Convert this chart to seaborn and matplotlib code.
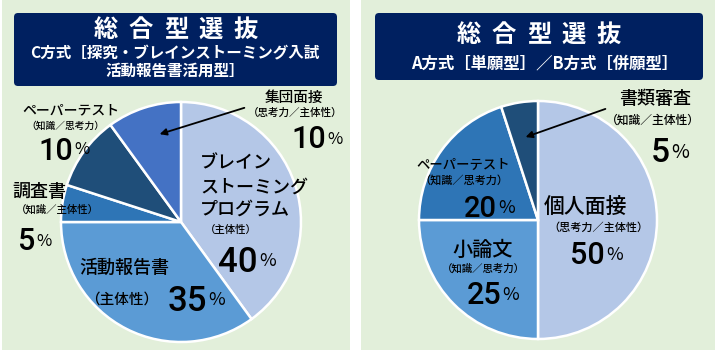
import matplotlib
matplotlib.use("Agg")
import matplotlib.pyplot as plt
from matplotlib.patches import Rectangle, FancyBboxPatch
import seaborn as sns

# ---- data ----
left_categories = ["ブレインストーミングプログラム", "活動報告書", "調査書", "ペーパーテスト", "集団面接"]
left_values = [40, 35, 5, 10, 10]
right_categories = ["個人面接", "小論文", "ペーパーテスト", "書類審査"]
right_values = [50, 25, 20, 5]

left_colors = ["#b4c7e7", "#5b9bd5", "#2e75b6", "#1f4e79", "#4472c4"]
right_colors = ["#b4c7e7", "#5b9bd5", "#2e75b6", "#1f4e79"]

left_title = "総合型選抜"
left_sub1 = "C方式［探究・ブレインストーミング入試"
left_sub2 = "活動報告書活用型］"
right_title = "総合型選抜"
right_sub = "A方式［単願型］／B方式［併願型］"

sns.set_theme(style="white")
plt.rcParams['font.family'] = ['Noto Sans CJK JP', 'DejaVu Sans']

W, H = 717, 350
fig = plt.figure(figsize=(W / 100, H / 100), dpi=100)
fig.patch.set_facecolor("white")
ax = fig.add_axes([0, 0, 1, 1])

def Y(p):
    return H - p

GREEN = "#e2efda"
NAVY = "#002060"

# panels
ax.add_patch(Rectangle((2, Y(350)), 348, 350, facecolor=GREEN, edgecolor="none", zorder=0))
ax.add_patch(Rectangle((361, Y(350)), 354, 350, facecolor=GREEN, edgecolor="none", zorder=0))
# title boxes
ax.add_patch(FancyBboxPatch((14, Y(86)), 323, 73, boxstyle="round,pad=0,rounding_size=4",
                            facecolor=NAVY, edgecolor="none", zorder=1))
ax.add_patch(FancyBboxPatch((375, Y(80)), 328, 67, boxstyle="round,pad=0,rounding_size=4",
                            facecolor=NAVY, edgecolor="none", zorder=1))

def spaced(text, cx, cy, step, **kw):
    n = len(text)
    x0 = cx - step * (n - 1) / 2
    for i, ch in enumerate(text):
        ax.text(x0 + i * step, Y(cy), ch, ha="center", va="center", **kw)

spaced(left_title, 176, 30, 35, color="white", fontsize=17.5, fontweight="bold", zorder=2)
ax.text(175, Y(53), left_sub1, ha="center", va="center", color="white", fontsize=11.2, fontweight="bold", zorder=2)
ax.text(175, Y(71), left_sub2, ha="center", va="center", color="white", fontsize=11.2, fontweight="bold", zorder=2)
spaced(right_title, 539, 35, 35, color="white", fontsize=17.5, fontweight="bold", zorder=2)
ax.text(545, Y(63), right_sub, ha="center", va="center", color="white", fontsize=11.8, fontweight="bold", zorder=2)

# pies
wp = dict(edgecolor="white", linewidth=1.8)
ax.pie(left_values, colors=sns.color_palette(left_colors), startangle=90, counterclock=False,
       center=(181, Y(222)), radius=120, wedgeprops=wp, frame=True)
ax.pie(right_values, colors=sns.color_palette(right_colors), startangle=90, counterclock=False,
       center=(538, Y(220)), radius=119, wedgeprops=wp, frame=True)

ax.set_xlim(0, W)
ax.set_ylim(0, H)
ax.set_aspect("auto")
ax.set_axis_off()

def T(x, y, s, size, ha="center", **kw):
    ax.text(x, Y(y), s, fontsize=size, ha=ha, va="center", color="black", zorder=5,
            fontweight="medium", **kw)

def pct(x, y, num, size, psize):
    # x is the boundary between number and % sign; y is the digit centre
    ax.text(x, Y(y), num, fontsize=size, ha="right", va="center_baseline", color="black",
            zorder=5, family=["Roboto", "DejaVu Sans"], fontweight="medium")
    ax.text(x + 1, Y(y), "%", fontsize=psize, ha="left", va="center_baseline", color="black", zorder=5)

# ---- left labels ----
T(294, 98, "集団面接", 10.5)
T(295, 113, "（思考力／主体性）", 7.6)
pct(326, 137, "10", 22, 12)

T(71, 110, "ペーパーテスト", 10)
T(65, 126, "（知識／思考力）", 7)
pct(73, 148, "10", 22, 12)

T(12, 192, "調査書", 13, ha="left")
T(57, 210, "（知識／主体性）", 7.5)
pct(35, 239, "5", 22, 12)

T(200, 163, "ブレイン", 13, ha="left")
T(200, 188, "ストーミング", 13, ha="left")
T(200, 210, "プログラム", 13, ha="left")
T(231, 230, "（主体性）", 7.5)
pct(258, 259, "40", 25, 13)

T(124, 268, "活動報告書", 13)
T(122, 300, "（主体性）", 10.5)
pct(207, 298, "35", 25, 13)

ax.annotate("", xy=(157, Y(135)), xytext=(247, Y(107)),
            arrowprops=dict(arrowstyle="-|>", color="black", lw=1.3, mutation_scale=10), zorder=6)

# ---- right labels ----
T(655, 99, "書類審査", 13)
T(653, 120, "（知識／主体性）", 8.5)
pct(670, 150, "5", 24, 14)

ax.annotate("", xy=(523, Y(138)), xytext=(608, Y(108)),
            arrowprops=dict(arrowstyle="-|>", color="black", lw=1.3, mutation_scale=10), zorder=6)

T(463, 165, "ペーパーテスト", 9.6)
T(464, 180, "（知識／思考力）", 8)
pct(497, 206, "20", 21, 13)

T(585, 208, "個人面接", 15)
T(598, 228, "（思考力／主体性）", 8)
pct(605, 253, "50", 22, 13)

T(483, 250, "小論文", 14.5)
T(483, 269, "（知識／思考力）", 7.5)
pct(501, 293, "25", 22, 13)

fig.savefig("out.png", dpi=100, facecolor="white")
